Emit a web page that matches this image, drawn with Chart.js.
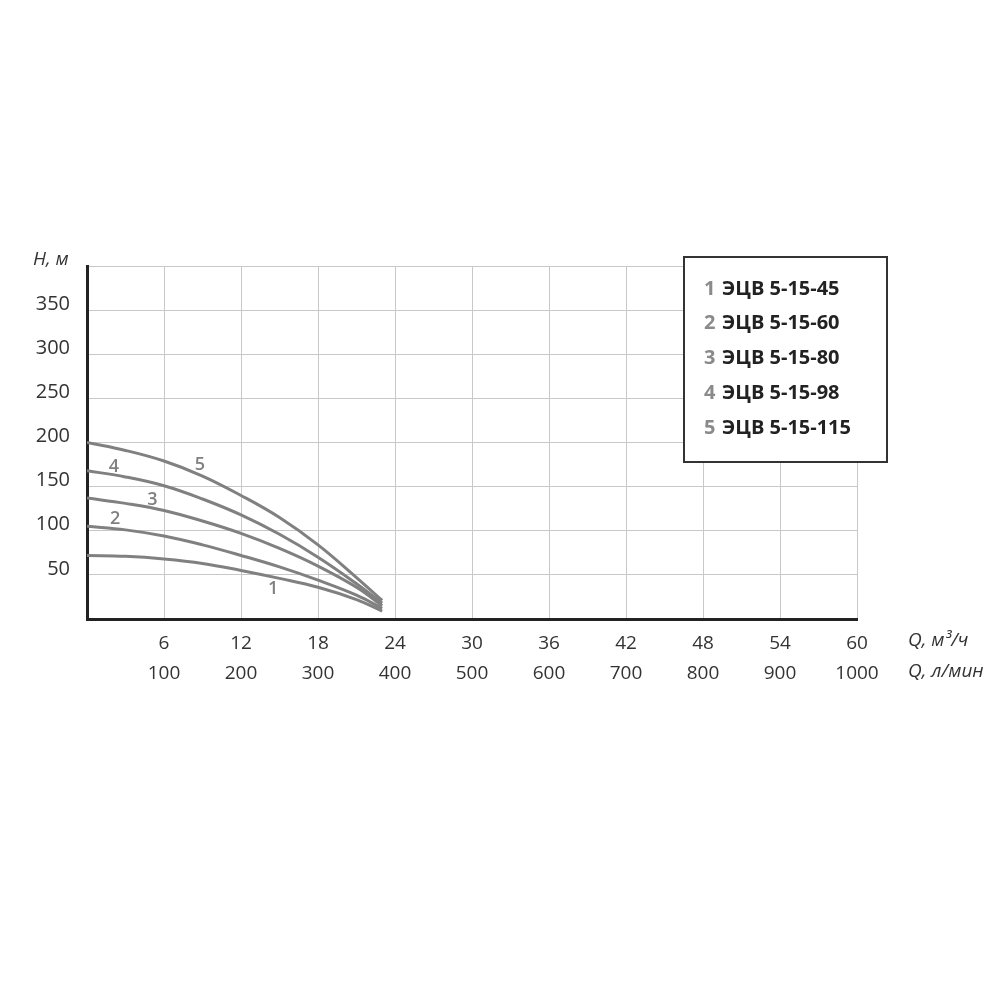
<!DOCTYPE html>
<html>
<head>
<meta charset="utf-8">
<script src="https://cdn.jsdelivr.net/npm/chart.js@4"></script>
<style>
  body { margin: 0; background: #ffffff; }
  #wrap { width: 1000px; height: 1000px; }
</style>
</head>
<body>
<div id="wrap"><canvas id="chartCanvas" width="1000" height="1000"></canvas></div>
<script>
// Flow, m3/h
const qFlow = [0, 3, 6, 9, 12, 15, 18, 21, 23];
// Head, m, per pump model
const head1 = [72, 71, 68, 63, 55, 46, 36, 22, 9];
const head2 = [105, 101, 94, 84, 72, 59, 44, 27, 12];
const head3 = [137, 131, 123, 111, 97, 80, 60, 36, 15];
const head4 = [168, 161, 151, 136, 118, 96, 70, 40, 18];
const head5 = [200, 191, 179, 162, 140, 115, 84, 47, 21];

const modelNames = ['ЭЦВ 5-15-45', 'ЭЦВ 5-15-60', 'ЭЦВ 5-15-80', 'ЭЦВ 5-15-98', 'ЭЦВ 5-15-115'];

const qM3Labels = ['6', '12', '18', '24', '30', '36', '42', '48', '54', '60'];
const qLMinLabels = ['100', '200', '300', '400', '500', '600', '700', '800', '900', '1000'];
const hLabels = ['50', '100', '150', '200', '250', '300', '350'];

// where the curve numbers sit (Q, H)
const curveTagQ = [14.5, 2.2, 5.1, 2.1, 8.8];
const curveTagH = [34, 113, 135, 172, 175];

const FONT = '"Open Sans", sans-serif';
const curveColor = '#808080';

function toPoints(hs) {
    return qFlow.map((q, i) => ({ x: q, y: hs[i] }));
}

const extras = {
    id: 'extras',
    afterDraw(chart) {
        const ctx = chart.ctx;
        const xs = chart.scales.x;
        const ys = chart.scales.y;

        // numbers on the curves
        ctx.save();
        ctx.fillStyle = '#808080';
        ctx.font = '600 18px ' + FONT;
        ctx.textAlign = 'center';
        ctx.textBaseline = 'middle';
        curveTagQ.forEach((q, i) => {
            ctx.fillText(String(i + 1), xs.getPixelForValue(q), ys.getPixelForValue(curveTagH[i]));
        });

        // axis titles
        ctx.fillStyle = '#333333';
        ctx.font = 'italic 19px ' + FONT;
        ctx.textAlign = 'left';
        ctx.fillText('H, м', 33, 260);
        ctx.fillText('Q, м³/ч', 908, 641);
        ctx.fillText('Q, л/мин', 908, 672);

        // legend box
        const bx = 684, by = 257, bw = 203, bh = 205;
        ctx.fillStyle = '#ffffff';
        ctx.fillRect(bx, by, bw, bh);
        ctx.strokeStyle = '#333333';
        ctx.lineWidth = 2;
        ctx.strokeRect(bx, by, bw, bh);

        ctx.font = 'bold 20px ' + FONT;
        modelNames.forEach((name, i) => {
            const ty = 289 + i * 34.7;
            ctx.fillStyle = '#8a8a8a';
            ctx.fillText(String(i + 1), 704, ty);
            ctx.fillStyle = '#222222';
            ctx.fillText(name, 722, ty);
        });
        ctx.restore();
    }
};

const ds = [head1, head2, head3, head4, head5].map((h, i) => ({
    label: modelNames[i],
    data: toPoints(h),
    borderColor: curveColor,
    borderWidth: 3,
    pointRadius: 0,
    fill: false,
    tension: 0.4
}));

new Chart(document.getElementById('chartCanvas').getContext('2d'), {
    type: 'line',
    data: { datasets: ds },
    options: {
        responsive: false,
        animation: false,
        layout: { padding: { top: 266, right: 143, left: 0, bottom: 0 } },
        plugins: {
            legend: { display: false },
            tooltip: { enabled: false }
        },
        scales: {
            x: {
                type: 'linear',
                min: 0,
                max: 60,
                afterFit(scale) { scale.height = 381; },
                afterBuildTicks(scale) {
                    scale.ticks = [0, 6, 12, 18, 24, 30, 36, 42, 48, 54, 60].map(v => ({ value: v }));
                },
                grid: { color: '#c8c8c8', lineWidth: 1, drawTicks: false },
                border: { color: '#222222', width: 3 },
                ticks: {
                    padding: 9,
                    color: '#333333',
                    font: { family: FONT, size: 19, lineHeight: 1.6 },
                    maxRotation: 0,
                    autoSkip: false,
                    callback(value, index) {
                        if (index === 0) return '';
                        return [qM3Labels[index - 1], qLMinLabels[index - 1]];
                    }
                }
            },
            y: {
                min: 0,
                max: 400,
                afterFit(scale) { scale.width = 87; },
                grid: { color: '#c8c8c8', lineWidth: 1, drawTicks: false },
                border: { color: '#222222', width: 3 },
                ticks: {
                    stepSize: 50,
                    padding: 17,
                    labelOffset: -6,
                    color: '#333333',
                    font: { family: FONT, size: 20 },
                    callback(value, index) {
                        if (index === 0 || index > hLabels.length) return '';
                        return hLabels[index - 1];
                    }
                }
            }
        }
    },
    plugins: [extras]
});
</script>
</body>
</html>
